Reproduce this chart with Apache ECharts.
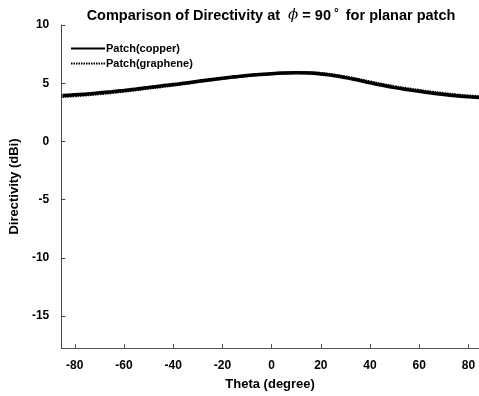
<!DOCTYPE html>
<html><head><meta charset="utf-8">
<script src="https://cdn.jsdelivr.net/npm/echarts@6/dist/echarts.min.js"></script>
<style>html,body{margin:0;padding:0;background:#fff}#c{width:479px;height:396px}</style>
</head><body><div id="c"></div>
<script>
var theta = [-85,-80,-75,-70,-65,-60,-55,-50,-45,-40,-35,-30,-25,-20,-15,-10,-5,0,5,10,15,20,25,30,35,40,45,50,55,60,65,70,75,80,85];
var copper = [3.94,4.0,4.08,4.17,4.27,4.38,4.5,4.63,4.76,4.88,5.02,5.16,5.3,5.43,5.55,5.66,5.75,5.82,5.87,5.9,5.88,5.8,5.66,5.48,5.27,5.04,4.82,4.62,4.45,4.3,4.16,4.03,3.92,3.83,3.75];
var graphene = [3.86,3.92,4.0,4.09,4.19,4.31,4.43,4.57,4.7,4.83,4.97,5.12,5.26,5.4,5.53,5.64,5.74,5.82,5.88,5.92,5.91,5.84,5.71,5.54,5.34,5.11,4.9,4.7,4.53,4.38,4.24,4.11,4.0,3.91,3.83];
var xTicks = [-80,-60,-40,-20,0,20,40,60,80];
var yTicks = [-15,-10,-5,0,5,10];

function pairs(xs, ys){ return xs.map(function(x,i){return [x, ys[i]];}); }
var font = 'Liberation Sans, Arial, sans-serif';
var chart = echarts.init(document.getElementById('c'));
chart.setOption({
  animation:false,
  title:{
    text:'Comparison of Directivity at  {i|ϕ} = 90{s|°} for planar patch',
    left:266, top:3, textAlign:'center',
    textStyle:{fontFamily:font,fontWeight:'bold',fontSize:14.5,color:'#000',
      rich:{i:{fontFamily:'DejaVu Serif, serif',fontStyle:'italic',fontSize:15,fontWeight:'normal',color:'#000'},
            s:{fontFamily:font,fontSize:12,fontWeight:'bold',color:'#000',verticalAlign:'top',padding:[0,3,0,3]}}}
  },
  legend:{
    left:65, top:38, orient:'vertical', itemGap:4, itemWidth:34, itemHeight:12,
    itemStyle:{opacity:0},
    textStyle:{fontFamily:font,fontWeight:'bold',fontSize:11,color:'#000',padding:[0,0,0,-4]},
    data:['Patch(copper)','Patch(graphene)']
  },
  grid:{left:53, top:25, right:0, bottom:46},
  xAxis:{
    type:'value', min:-85.5, max:84.3,
    name:'Theta (degree)', nameLocation:'middle', nameGap:30,
    nameTextStyle:{fontFamily:font,fontWeight:'bold',fontSize:13,color:'#000'},
    axisLine:{onZero:false,lineStyle:{color:'#555',width:1}},
    axisTick:{inside:true,length:4,lineStyle:{color:'#555'},customValues:xTicks},
    axisLabel:{fontFamily:font,fontWeight:'bold',fontSize:12,color:'#000',margin:12,customValues:xTicks},
    splitLine:{show:false}
  },
  yAxis:{
    type:'value', min:-17.75, max:10,
    name:'Directivity (dBi)', nameLocation:'middle', nameGap:33,
    nameTextStyle:{fontFamily:font,fontWeight:'bold',fontSize:13,color:'#000'},
    axisLine:{show:true,onZero:false,lineStyle:{color:'#444',width:1}},
    axisTick:{show:true,inside:true,length:4,lineStyle:{color:'#444'},customValues:yTicks},
    axisLabel:{fontFamily:font,fontWeight:'bold',fontSize:12,color:'#000',margin:12,customValues:yTicks},
    splitLine:{show:false}
  },
  series:[
    {name:'Patch(graphene)', type:'line', smooth:true, symbol:'none', data:pairs(theta,graphene), z:2,
     lineStyle:{color:'#000',width:3,type:[1.5,1]}, itemStyle:{color:'#000'}},
    {name:'Patch(copper)', type:'line', smooth:true, symbol:'none', data:pairs(theta,copper), z:3,
     lineStyle:{color:'#000',width:3.5,type:'solid'}, itemStyle:{color:'#000'}}
  ]
});
</script></body></html>
